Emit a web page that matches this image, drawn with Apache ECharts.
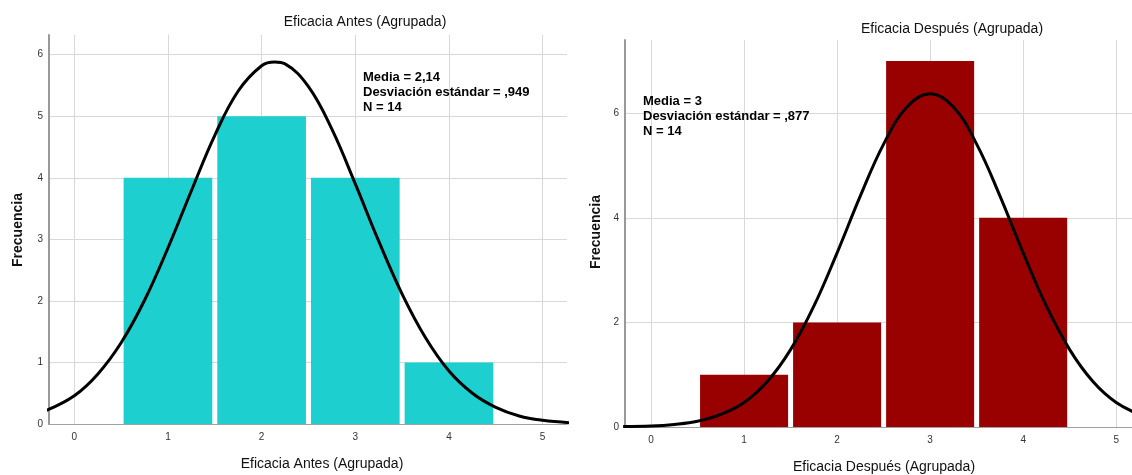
<!DOCTYPE html>
<html>
<head>
<meta charset="utf-8">
<script src="https://cdn.jsdelivr.net/npm/echarts@6/dist/echarts.min.js"></script>
<style>html,body{margin:0;padding:0;background:#fff;}#c{width:1132px;height:475px;}</style>
</head>
<body>
<div id="c"></div>
<script>
// ---- data ----
const binCenters = [1, 2, 3, 4];
const antesFreq = [4, 5, 4, 1];
const despuesFreq = [1, 2, 7, 4];
const xTickValues = [0, 1, 2, 3, 4, 5];
const antesYTicks = [0, 1, 2, 3, 4, 5, 6];
const despuesYTicks = [0, 2, 4, 6];
const antesCurveX = [-0.3, 0, 0.25, 0.5, 0.75, 1, 1.25, 1.5, 1.75, 2, 2.14, 2.25, 2.5, 2.75, 3, 3.25, 3.5, 3.75, 4, 4.25, 4.5, 4.75, 5, 5.3];
const antesCurveY = [0.22, 0.46, 0.81, 1.32, 2.01, 2.86, 3.79, 4.69, 5.41, 5.82, 5.88, 5.85, 5.48, 4.79, 3.90, 2.97, 2.11, 1.40, 0.86, 0.50, 0.27, 0.13, 0.06, 0.02];
const despuesCurveX = [-0.3, 0, 0.25, 0.5, 0.75, 1, 1.25, 1.5, 1.75, 2, 2.25, 2.5, 2.75, 3, 3.25, 3.5, 3.75, 4, 4.25, 4.5, 4.75, 5, 5.3];
const despuesCurveY = [0.01, 0.02, 0.05, 0.11, 0.24, 0.47, 0.87, 1.48, 2.31, 3.33, 4.42, 5.41, 6.12, 6.37, 6.12, 5.41, 4.42, 3.33, 2.31, 1.48, 0.87, 0.47, 0.20];
const antesStats = ['Media = 2,14', 'Desviación estándar = ,949', 'N = 14'];
const despuesStats = ['Media = 3', 'Desviación estándar = ,877', 'N = 14'];

const chart = echarts.init(document.getElementById('c'));
const FONT = '"Liberation Sans", Arial, sans-serif';

function barSeries(idx, freq, color) {
  return {
    type: 'custom', xAxisIndex: idx, yAxisIndex: idx, z: 2,
    data: binCenters.map((c, i) => [c, freq[i]]),
    encode: { x: 0, y: 1 },
    renderItem: function (params, api) {
      const x = api.value(0), v = api.value(1);
      const p0 = api.coord([x - 0.5, v]);
      const p1 = api.coord([x + 0.5, 0]);
      return {
        type: 'rect',
        shape: { x: p0[0] + 2.5, y: p0[1], width: p1[0] - p0[0] - 5, height: p1[1] - p0[1] },
        style: { fill: color }
      };
    }
  };
}
function curveSeries(idx, xs, ys) {
  return {
    type: 'line', xAxisIndex: idx, yAxisIndex: idx, z: 5,
    data: xs.map((x, i) => [x, ys[i]]),
    smooth: 0.4, showSymbol: false, clip: true,
    lineStyle: { color: '#000', width: 3 }
  };
}
function xAxis(idx, min, max) {
  return {
    type: 'value', gridIndex: idx, min: min, max: max,
    axisLine: { show: true, onZero: false, lineStyle: { color: '#a0a0a0', width: 1 } },
    axisTick: { show: false, customValues: xTickValues },
    axisLabel: { customValues: xTickValues, fontSize: 10, color: '#333', fontFamily: FONT, margin: 8 },
    splitLine: { show: true, lineStyle: { color: '#d9d9d9', width: 1 } }
  };
}
function yAxis(idx, max, ticks) {
  return {
    type: 'value', gridIndex: idx, min: 0, max: max,
    axisLine: { show: true, onZero: false, lineStyle: { color: '#999', width: 2 } },
    axisTick: { show: false, customValues: ticks },
    axisLabel: { customValues: ticks, fontSize: 10, color: '#333', fontFamily: FONT, margin: 6 },
    splitLine: { show: true, lineStyle: { color: '#d9d9d9', width: 1 } }
  };
}
function statsText(x, y, lines) {
  return {
    type: 'text', left: x, top: y, z: 10,
    style: { text: lines.join('\n'), font: 'bold 13px ' + FONT, fill: '#000', lineHeight: 15 }
  };
}
function label(x, y, text, size, rotate, bold) {
  return {
    type: 'text', x: x, y: y, rotation: rotate || 0, z: 10,
    style: { text: text, font: (bold ? 'bold ' : '') + size + 'px ' + FONT, fill: '#111',
      textAlign: 'center', textVerticalAlign: 'middle' }
  };
}

chart.setOption({
  animation: false,
  backgroundColor: '#fff',
  grid: [
    { left: 49, top: 35, width: 518, height: 389 },
    { left: 625, top: 40, width: 507, height: 387 }
  ],
  xAxis: [xAxis(0, -0.27, 5.26), xAxis(1, -0.28, 5.17)],
  yAxis: [yAxis(0, 6.32, antesYTicks), yAxis(1, 7.4, despuesYTicks)],
  series: [
    barSeries(0, antesFreq, '#1dcfcf'),
    curveSeries(0, antesCurveX, antesCurveY),
    barSeries(1, despuesFreq, '#990000'),
    curveSeries(1, despuesCurveX, despuesCurveY)
  ],
  graphic: [
    label(365, 22, 'Eficacia Antes (Agrupada)', 14),
    label(952, 29, 'Eficacia Después (Agrupada)', 14),
    label(322, 464, 'Eficacia Antes (Agrupada)', 14),
    label(884, 467, 'Eficacia Después (Agrupada)', 14),
    label(18, 230, 'Frecuencia', 14, Math.PI / 2, true),
    label(596, 232, 'Frecuencia', 14, Math.PI / 2, true),
    statsText(363, 70, antesStats),
    statsText(643, 94, despuesStats)
  ]
});
</script>
</body>
</html>
